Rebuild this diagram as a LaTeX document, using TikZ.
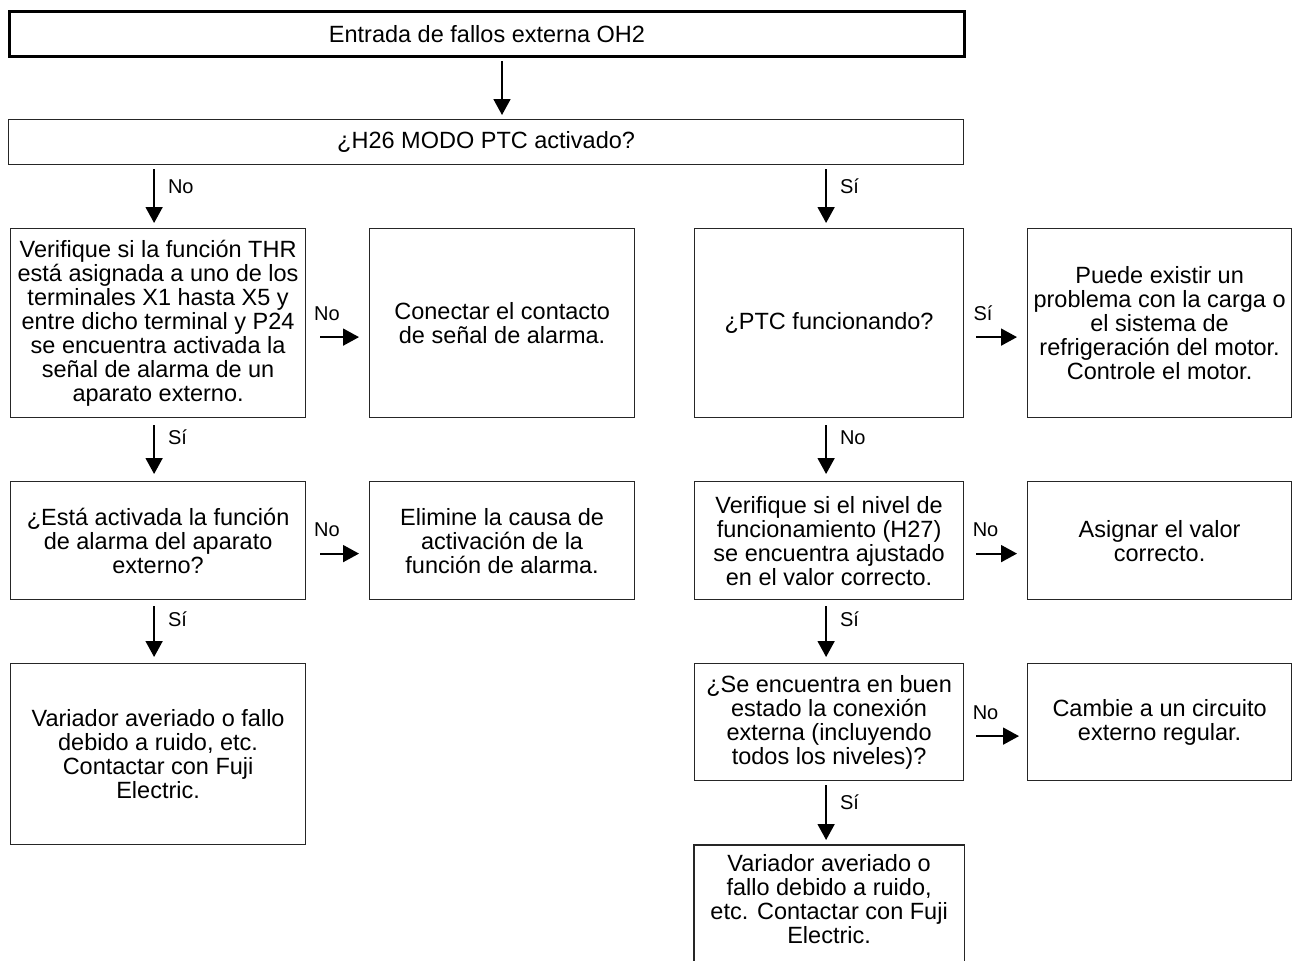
\documentclass[tikz,border=0pt]{standalone}
\usepackage{fontspec}
\setmainfont{Liberation Sans}
\usetikzlibrary{arrows.meta,calc}

\begin{document}
\begin{tikzpicture}[
  x=1pt, y=-1pt,
  >={Triangle[length=16pt,width=17pt]},
  box/.style={draw=black!85, line width=1.2pt, inner sep=0pt, anchor=north west,
    align=center, font=\fontsize{23.5}{24}\selectfont},
  flow/.style={->, line width=1.8pt},
  lbl/.style={font=\fontsize{20}{22}\selectfont, inner sep=0pt}
]
  \useasboundingbox (0,0) rectangle (1293,961);

  % Header boxes
  \node[box, draw=black, line width=3pt, minimum width=955pt, minimum height=45pt] (entrada) at (8,10) {Entrada de fallos externa OH2};
  \node[box, minimum width=955pt, minimum height=45pt] (h26) at (8,119) {¿H26 MODO PTC activado?};

  % Row 1
  \node[box, minimum width=295pt, minimum height=189pt] (thr) at (10,228)
    {Verifique si la función THR\\está asignada a uno de los\\terminales X1 hasta X5 y\\entre dicho terminal y P24\\se encuentra activada la\\señal de alarma de un\\aparato externo.};
  \node[box, minimum width=265pt, minimum height=189pt] (conectar) at (369,228)
    {Conectar el contacto\\de señal de alarma.};
  \node[box, minimum width=269pt, minimum height=189pt] (ptc) at (694,228)
    {¿PTC funcionando?};
  \node[box, minimum width=264pt, minimum height=189pt] (motor) at (1027,228)
    {Puede existir un\\problema con la carga o\\el sistema de\\refrigeración del motor.\\Controle el motor.};

  % Row 2
  \node[box, minimum width=295pt, minimum height=118pt] (alarma) at (10,481)
    {¿Está activada la función\\de alarma del aparato\\externo?};
  \node[box, minimum width=265pt, minimum height=118pt] (elimine) at (369,481)
    {Elimine la causa de\\activación de la\\función de alarma.};
  \node[box, minimum width=269pt, minimum height=118pt] (nivel) at (694,481)
    {Verifique si el nivel de\\funcionamiento (H27)\\se encuentra ajustado\\en el valor correcto.};
  \node[box, minimum width=264pt, minimum height=118pt] (asignar) at (1027,481)
    {Asignar el valor\\correcto.};

  % Row 3
  \node[box, minimum width=295pt, minimum height=181pt] (variadorA) at (10,663)
    {Variador averiado o fallo\\debido a ruido, etc.\\Contactar con Fuji\\Electric.};
  \node[box, minimum width=269pt, minimum height=117pt] (conexion) at (694,663)
    {¿Se encuentra en buen\\estado la conexión\\externa (incluyendo\\todos los niveles)?};
  \node[box, minimum width=264pt, minimum height=117pt] (cambie) at (1027,663)
    {Cambie a un circuito\\externo regular.};

  % Row 4 (box runs off the bottom edge)
  \node[box, draw=none, minimum width=269pt, minimum height=106pt] (variadorB) at (694,845)
    {Variador averiado o\\fallo debido a ruido,\\etc. Contactar con Fuji\\Electric.};
  \draw[black!85, line width=1.2pt] ($(variadorB.south west)+(0,30)$) -- (variadorB.north west)
    -- (variadorB.north east) -- ($(variadorB.south east)+(0,30)$);

  % Vertical arrows
  \draw[flow, shorten <=3pt, shorten >=4pt] ($(entrada.south)+(15,0)$) -- ($(entrada.south |- h26.north)+(15,0)$);
  \draw[flow, shorten <=4pt, shorten >=5pt] ($(h26.south -| thr.north)+(-4,0)$) -- ($(thr.north)+(-4,0)$)
    node[lbl, pos=0.34, anchor=west, xshift=13pt] {No};
  \draw[flow, shorten <=4pt, shorten >=5pt] ($(h26.south -| ptc.north)+(-3,0)$) -- ($(ptc.north)+(-3,0)$)
    node[lbl, pos=0.34, anchor=west, xshift=13pt] {Sí};
  \draw[flow, shorten <=7pt, shorten >=7pt] ($(thr.south)+(-4,0)$) -- ($(alarma.north)+(-4,0)$)
    node[lbl, pos=0.31, anchor=west, xshift=13pt] {Sí};
  \draw[flow, shorten <=7pt, shorten >=7pt] ($(ptc.south)+(-3,0)$) -- ($(nivel.north)+(-3,0)$)
    node[lbl, pos=0.31, anchor=west, xshift=13pt] {No};
  \draw[flow, shorten <=6pt, shorten >=6pt] ($(alarma.south)+(-4,0)$) -- ($(variadorA.north)+(-4,0)$)
    node[lbl, pos=0.31, anchor=west, xshift=13pt] {Sí};
  \draw[flow, shorten <=6pt, shorten >=6pt] ($(nivel.south)+(-3,0)$) -- ($(conexion.north)+(-3,0)$)
    node[lbl, pos=0.31, anchor=west, xshift=13pt] {Sí};
  \draw[flow, shorten <=4pt, shorten >=5pt] ($(conexion.south)+(-3,0)$) -- ($(variadorB.north)+(-3,0)$)
    node[lbl, pos=0.33, anchor=west, xshift=13pt] {Sí};

  % Horizontal arrows
  \draw[flow, shorten <=14pt, shorten >=10pt] ($(thr.east)+(0,14)$) -- ($(thr.east -| conectar.west)+(0,14)$)
    node[lbl, pos=0.33, anchor=base, yshift=17pt] {No};
  \draw[flow, shorten <=12pt, shorten >=10pt] ($(ptc.east)+(0,14)$) -- ($(ptc.east -| motor.west)+(0,14)$)
    node[lbl, pos=0.3, anchor=base, yshift=17pt] {Sí};
  \draw[flow, shorten <=14pt, shorten >=10pt] ($(alarma.east)+(0,13)$) -- ($(alarma.east -| elimine.west)+(0,13)$)
    node[lbl, pos=0.33, anchor=base, yshift=17pt] {No};
  \draw[flow, shorten <=12pt, shorten >=10pt] ($(nivel.east)+(0,13)$) -- ($(nivel.east -| asignar.west)+(0,13)$)
    node[lbl, pos=0.34, anchor=base, yshift=17pt] {No};
  \draw[flow, shorten <=12pt, shorten >=8pt] ($(conexion.east)+(0,14)$) -- ($(conexion.east -| cambie.west)+(0,14)$)
    node[lbl, pos=0.34, anchor=base, yshift=17pt] {No};
\end{tikzpicture}
\end{document}
